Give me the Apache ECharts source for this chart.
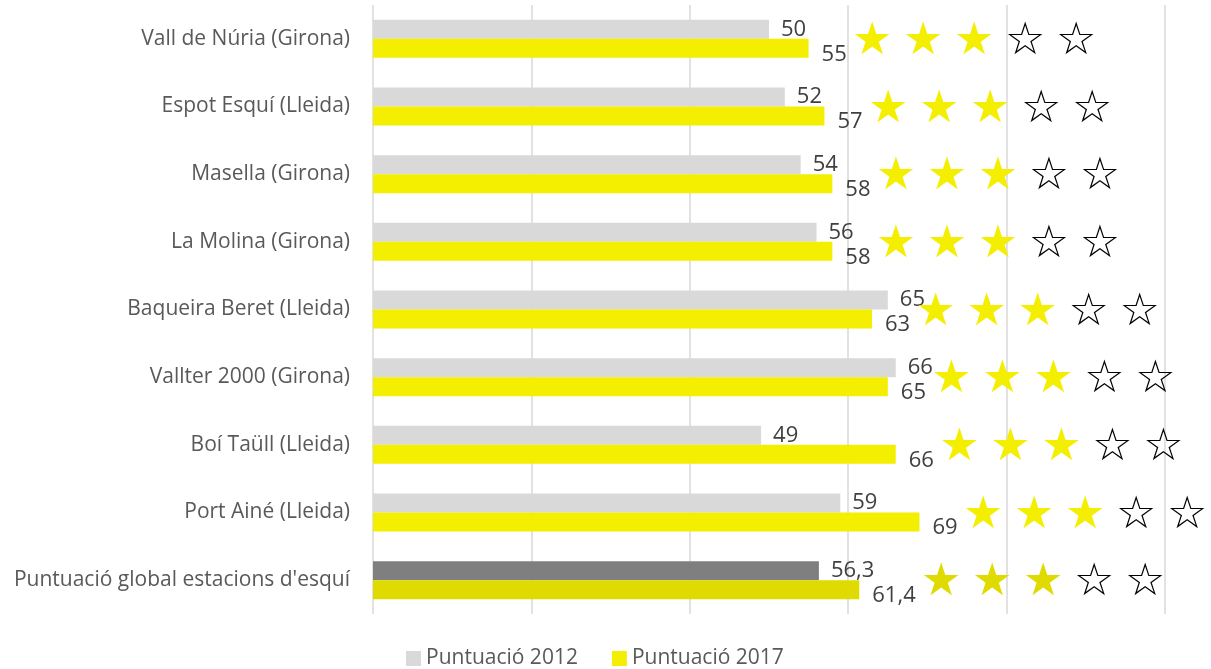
<!DOCTYPE html>
<html>
<head>
<meta charset="utf-8">
<script src="https://cdn.jsdelivr.net/npm/echarts@6/dist/echarts.min.js"></script>
<style>
  html, body { margin: 0; padding: 0; background: #fff; }
  #chart { width: 1211px; height: 669px; }
</style>
</head>
<body>
<div id="chart"></div>
<script>
    // estacions d'esqui
    var estacions = ['Vall de Núria (Girona)', 'Espot Esquí (Lleida)', 'Masella (Girona)', 'La Molina (Girona)',
        'Baqueira Beret (Lleida)', 'Vallter 2000 (Girona)', 'Boí Taüll (Lleida)', 'Port Ainé (Lleida)',
        "Puntuació global estacions d'esquí"];
    var punt2012 = [50, 52, 54, 56, 65, 66, 49, 59, 56.3];
    var punt2017 = [55, 57, 58, 58, 63, 65, 66, 69, 61.4];
    var estrellesPlenes = [3, 3, 3, 3, 3, 3, 3, 3, 3];
    var estrellesTotal = 5;
    var ticksX = [0, 20, 40, 60, 80, 100];

    var gris = '#d9d9d9', groc = '#f4ee00';
    var grisGlobal = '#7f7f7f', grocGlobal = '#dfdb00';
    var ultim = estacions.length - 1;

    function fmt(v) {
        return String(v).replace('.', ',');
    }

    var chart = echarts.init(document.getElementById('chart'));

    chart.setOption({
        textStyle: { fontFamily: 'Open Sans' },
        animation: false,
        grid: { left: 373, right: 46, top: 5, bottom: 55 },
        legend: {
            bottom: -5,
            left: 401,
            icon: 'rect',
            itemWidth: 15,
            itemHeight: 15,
            itemGap: 34,
            textStyle: { fontSize: 21, color: '#595959' },
            data: [
                { name: 'Puntuació 2012', itemStyle: { color: gris } },
                { name: 'Puntuació 2017', itemStyle: { color: groc } }
            ]
        },
        xAxis: {
            type: 'value',
            min: ticksX[0],
            max: ticksX[ticksX.length - 1],
            interval: ticksX[1] - ticksX[0],
            axisLabel: { show: false },
            axisLine: { show: false },
            axisTick: { show: false },
            splitLine: { lineStyle: { color: '#d9d9d9', width: 1.5 } }
        },
        yAxis: {
            type: 'category',
            inverse: true,
            data: estacions,
            axisLine: { show: false },
            axisTick: { show: false },
            axisLabel: { fontSize: 21, color: '#595959', margin: 23 }
        },
        series: [
            {
                name: 'Puntuació 2012',
                type: 'bar',
                barWidth: 19,
                barGap: '0%',
                itemStyle: { color: gris },
                label: {
                    show: true,
                    position: 'right',
                    distance: 12,
                    fontSize: 22,
                    color: '#404040',
                    formatter: function (p) { return fmt(p.value); }
                },
                data: punt2012.map(function (v, i) {
                    return i === ultim ? { value: v, itemStyle: { color: grisGlobal } } : v;
                })
            },
            {
                name: 'Puntuació 2017',
                type: 'bar',
                barWidth: 19,
                itemStyle: { color: groc },
                label: {
                    show: true,
                    position: 'right',
                    distance: 13,
                    offset: [0, -6],
                    formatter: function (p) {
                        var i = p.dataIndex;
                        var ple = i === ultim ? 'g' : 'f';
                        var s = '{n|' + fmt(p.value) + '}';
                        for (var k = 0; k < estrellesTotal; k++) {
                            s += k < estrellesPlenes[i] ? '{' + ple + '|★}' : '{o|☆}';
                        }
                        return s;
                    },
                    rich: {
                        n: { fontSize: 22, color: '#404040', verticalAlign: 'bottom', lineHeight: 22, padding: [0, 0, 0, 0] },
                        f: { fontFamily: 'DejaVu Sans', fontSize: 45, color: groc, width: 51, align: 'center', verticalAlign: 'middle', lineHeight: 46 },
                        g: { fontFamily: 'DejaVu Sans', fontSize: 45, color: grocGlobal, width: 51, align: 'center', verticalAlign: 'middle', lineHeight: 46 },
                        o: { fontFamily: 'DejaVu Sans', fontSize: 45, color: '#000', width: 51, align: 'center', verticalAlign: 'middle', lineHeight: 46 }
                    }
                },
                data: punt2017.map(function (v, i) {
                    return i === ultim ? { value: v, itemStyle: { color: grocGlobal } } : v;
                })
            }
        ]
    });
</script>
</body>
</html>
